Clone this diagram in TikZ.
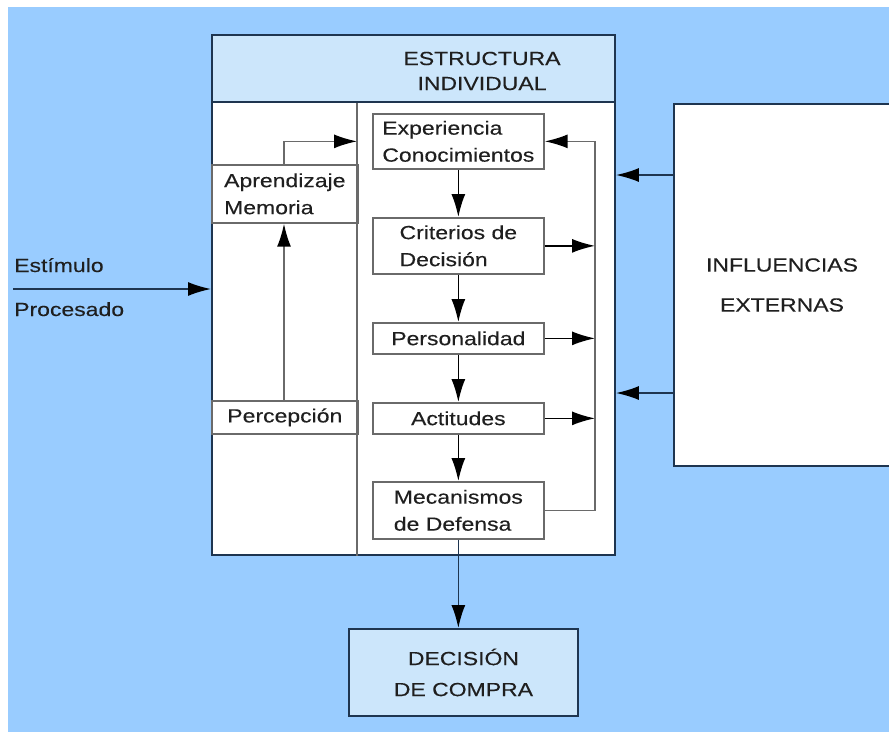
\documentclass[tikz,border=0pt]{standalone}
\usepackage{fontspec}
\setmainfont{Liberation Sans}[FakeStretch=1.21,FakeBold=0.2]
\usetikzlibrary{arrows.meta}
\definecolor{bgblue}{HTML}{99CCFF}
\definecolor{hdrblue}{HTML}{CCE6FB}
\definecolor{navy}{HTML}{1E3550}
\definecolor{boxgray}{HTML}{6A6A6A}
\definecolor{txt}{HTML}{1F1F1F}
\begin{document}
\begin{tikzpicture}[x=1pt,y=-1pt,
  every node/.style={text=txt, font=\fontsize{19}{27}\selectfont},
  outer/.style={draw=navy, line width=1.9pt, inner sep=0pt, anchor=north west},
  inbox/.style={draw=boxgray, line width=1.7pt, fill=white, inner sep=0pt, anchor=north west, align=left},
  band/.style={draw=boxgray, line width=1.7pt, inner sep=0pt, anchor=north west, align=left},
  arr/.style={draw=black, line width=1.6pt, -{Latex[length=23pt,width=14pt,color=black]}},
  ln/.style={draw=boxgray, line width=1.7pt}
]
\useasboundingbox (0,0) rectangle (889,732);
\fill[bgblue] (8,7) rectangle (889,732);

% main structure
\node[outer, fill=white, minimum width=403pt, minimum height=520pt] (main) at (211,34) {};
\node[outer, fill=hdrblue, minimum width=403pt, minimum height=67pt] (hdr) at (211,34) {};
\node[align=center, font=\fontsize{19}{25}\selectfont] (hdrtext) at (482,71) {ESTRUCTURA\\INDIVIDUAL};

\coordinate (dv) at (357,0);
\coordinate (ap) at (284,0);
\coordinate (fb) at (595,0);
\coordinate (ya) at (0,175);
\coordinate (yb) at (0,393);
\draw[ln] (dv |- hdr.south) -- (dv |- main.south);

% left column
\node[band, minimum width=146pt, minimum height=58pt] (aprend) at (211,164) {Aprendizaje\\Memoria};
\node[band, minimum width=146pt, minimum height=33pt] (percep) at (211,400) {Percepción};

% central column
\node[inbox, minimum width=171pt, minimum height=55pt] (exp) at (372,113) {Experiencia\\Conocimientos};
\node[inbox, minimum width=171pt, minimum height=56pt] (crit) at (372,217) {Criterios de\\Decisión};
\node[inbox, minimum width=171pt, minimum height=31pt] (pers) at (372,322) {Personalidad};
\node[inbox, minimum width=171pt, minimum height=31pt] (act) at (372,402) {Actitudes};
\node[inbox, minimum width=171pt, minimum height=57pt] (mec) at (372,481) {Mecanismos\\de Defensa};

% external influences
\node[outer, fill=white, minimum width=240pt, minimum height=362pt] (infl) at (673,103) {};
\node[align=center, font=\fontsize{19}{40}\selectfont] (infltext) at (782,285) {INFLUENCIAS\\EXTERNAS};

% decision
\node[outer, fill=hdrblue, minimum width=229pt, minimum height=87pt, align=center, font=\fontsize{19}{31}\selectfont] (dec) at (348,628) {DECISIÓN\\DE COMPRA};

% stimulus
\coordinate (stim) at (13,289);
\node[anchor=base west, inner sep=0pt] (est) at (14,272) {Estímulo};
\node[anchor=base west, inner sep=0pt] (proc) at (14,316) {Procesado};
\draw[arr, draw=navy] (stim) -- (main.west |- stim);

% vertical chain
\draw[arr] (exp.south) -- (crit.north);
\draw[arr] (crit.south) -- (pers.north);
\draw[arr] (pers.south) -- (act.north);
\draw[arr] (act.south) -- (mec.north);
\draw[arr, draw=navy] (mec.south) -- (mec.south |- dec.north);

% feedback loop
\draw[arr, draw=boxgray] (mec.east) -- (fb |- mec.east) -- (fb |- exp.east) -- (exp.east);
\draw[arr] (crit.east) -- (fb |- crit.east);
\draw[arr] (pers.east) -- (fb |- pers.east);
\draw[arr] (act.east) -- (fb |- act.east);

% learning loop
\draw[arr, draw=boxgray] (ap |- percep.north) -- (ap |- aprend.south);
\draw[arr, draw=boxgray] (ap |- aprend.north) -- (ap |- exp.east) -- (dv |- exp.east);

% influences
\draw[arr, draw=navy] (infl.west |- ya) -- (main.east |- ya);
\draw[arr, draw=navy] (infl.west |- yb) -- (main.east |- yb);
\end{tikzpicture}
\end{document}
